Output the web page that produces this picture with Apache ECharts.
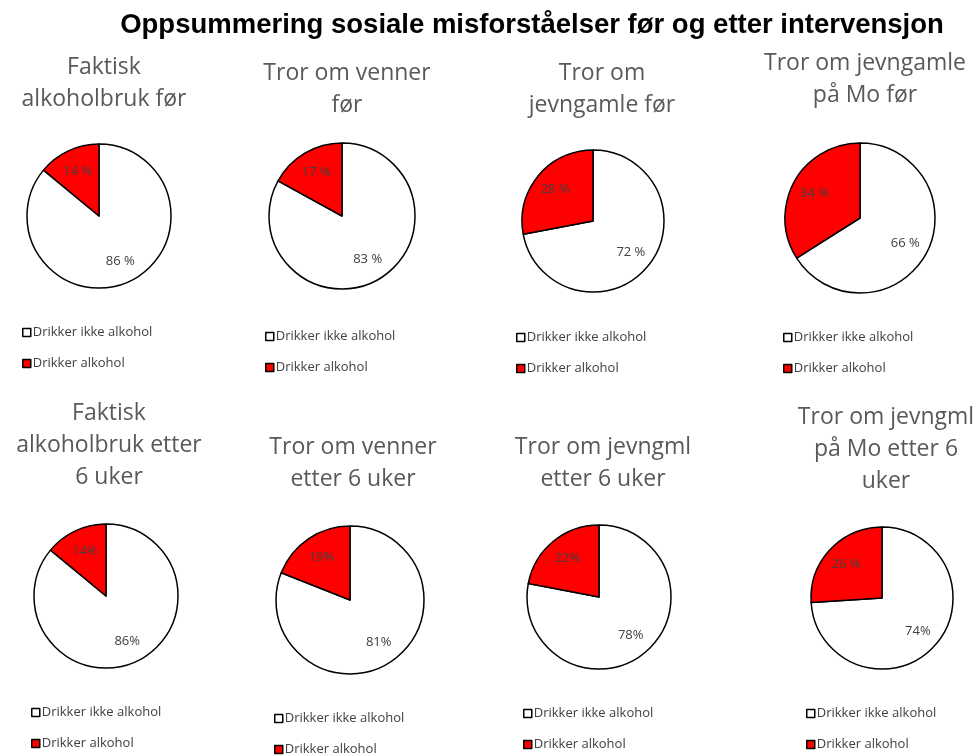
<!DOCTYPE html>
<html>
<head>
<meta charset="utf-8">
<script src="https://cdn.jsdelivr.net/npm/echarts@6/dist/echarts.min.js"></script>
<style>
  html, body { margin: 0; padding: 0; background: #fff; }
  #chart { width: 977px; height: 755px; }
</style>
</head>
<body>
<div id="chart"></div>
<script>
// Survey results: share who drink / do not drink, before and after the intervention
const mainTitle = 'Oppsummering sosiale misforståelser før og etter intervensjon';
const categories = ['Drikker ikke alkohol', 'Drikker alkohol'];
const panelTitles = [
  'Faktisk\nalkoholbruk før',
  'Tror om venner\nfør',
  'Tror om\njevngamle før',
  'Tror om jevngamle\npå Mo før',
  'Faktisk\nalkoholbruk etter\n6 uker',
  'Tror om venner\netter 6 uker',
  'Tror om jevngml\netter 6 uker',
  'Tror om jevngml\npå Mo etter 6\nuker'
];
const drikkerIkke = [86, 83, 72, 66, 86, 81, 78, 74];
const drikker = [14, 17, 28, 34, 14, 19, 22, 26];
// percent sign spacing as printed on each slice
const ikkeSuffix = [' %', ' %', ' %', ' %', '%', '%', '%', '%'];
const drikkerSuffix = [' %', ' %', ' %', ' %', '%', '%', '%', ' %'];

// layout of the eight panels
const pieCenters = [
  [99, 216], [342, 216], [593, 221], [860, 218],
  [106, 596], [350, 600], [599, 597], [882, 598]
];
const pieRadius = [72, 73, 71, 75, 72, 74, 72, 71];
const titlePos = [
  [99, 46], [342, 52], [597, 52], [860, 42],
  [104, 392], [348, 426], [598, 426], [881, 396]
];
// top-left of each legend (first row centre sits ~6px below)
const legendPos = [
  [22, 326], [265, 330], [516, 331], [783, 331],
  [31, 706], [274, 712], [523, 707], [806, 707]
];

const FONT = 'Open Sans';
const sliceColors = ['#FFFFFF', '#FF0000'];

const titles = [{
  text: mainTitle,
  left: 527, top: 6, textAlign: 'center',
  textStyle: { fontFamily: 'Liberation Sans', fontWeight: 'bold', fontSize: 27.5, color: '#000' }
}];
const legends = [];
const series = [];

panelTitles.forEach((t, i) => {
  titles.push({
    text: t,
    left: titlePos[i][0], top: titlePos[i][1], textAlign: 'center',
    textStyle: { fontFamily: FONT, fontWeight: 'normal', fontSize: 23, lineHeight: 32, color: '#595959' }
  });
  // narrow horizontal box so each entry wraps onto its own row
  legends.push({
    data: categories,
    orient: 'horizontal',
    left: legendPos[i][0], top: legendPos[i][1],
    width: 150,
    padding: 0,
    icon: 'rect', itemWidth: 8, itemHeight: 8, itemGap: 18,
    selectedMode: false,
    itemStyle: { borderColor: '#000', borderWidth: 1.5 },
    textStyle: { fontFamily: FONT, fontSize: 13, lineHeight: 12, color: '#404040', padding: [0, 0, 0, -3] }
  });
  const data = [
    { name: categories[0], value: drikkerIkke[i], suffix: ikkeSuffix[i], itemStyle: { color: sliceColors[0] } },
    { name: categories[1], value: drikker[i], suffix: drikkerSuffix[i], itemStyle: { color: sliceColors[1] } }
  ];
  // filled slices
  series.push({
    type: 'pie',
    center: pieCenters[i],
    radius: [0, pieRadius[i]],
    startAngle: 90,
    clockwise: true,
    silent: true,
    label: { show: false },
    labelLine: { show: false },
    itemStyle: { borderColor: '#000', borderWidth: 1.5 },
    data: data
  });
  // transparent companion disc that places the percentage labels further out
  series.push({
    type: 'pie',
    center: pieCenters[i],
    radius: [0, pieRadius[i] * 1.3],
    startAngle: 90,
    clockwise: true,
    silent: true,
    legendHoverLink: false,
    z: 5,
    label: {
      show: true, position: 'inside',
      fontFamily: FONT, fontSize: 13, color: '#404040',
      overflow: 'none', width: 80,
      textBorderWidth: 0,
      formatter: p => p.value + p.data.suffix
    },
    labelLine: { show: false },
    itemStyle: { color: 'rgba(0,0,0,0)', borderWidth: 0 },
    data: data.map(d => ({ name: d.name, value: d.value, suffix: d.suffix }))
  });
});

const chart = echarts.init(document.getElementById('chart'), null, { renderer: 'canvas' });
chart.setOption({
  backgroundColor: '#fff',
  animation: false,
  title: titles,
  legend: legends,
  series: series
});
</script>
</body>
</html>
